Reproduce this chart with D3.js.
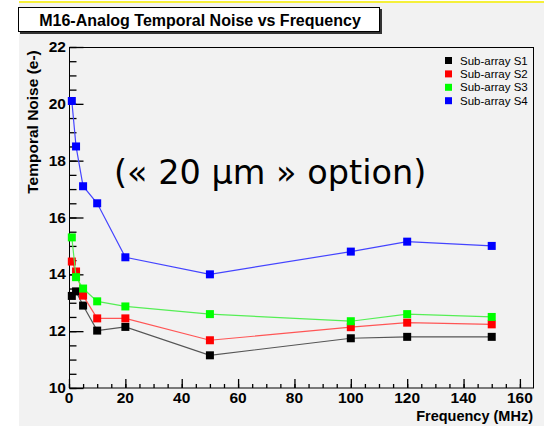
<html>
<head>
<title>M16 Analog Temporal Noise</title>
<script src="https://cdn.jsdelivr.net/npm/d3@7/dist/d3.min.js"></script>
</head>
<body style='margin: 0;padding: 0'>
<div id="chart"></div>
<script>

// frequencies (MHz) and noise (e-) per sub-array
var freq = [1, 2.5, 5, 10, 20, 50, 100, 120, 150]
var s1 = [13.24, 13.4, 12.9, 12.02, 12.15, 11.15, 11.75, 11.8, 11.8]
var s2 = [14.45, 14.1, 13.25, 12.45, 12.45, 11.68, 12.14, 12.3, 12.24]
var s3 = [15.3, 13.9, 13.5, 13.05, 12.87, 12.6, 12.35, 12.6, 12.5]
var s4 = [20.1, 18.5, 17.1, 16.5, 14.6, 14.0, 14.8, 15.15, 15.0]
var seriesNames = ['Sub-array S1', 'Sub-array S2', 'Sub-array S3', 'Sub-array S4']
var seriesColours = ['#000000', '#ff0000', '#00ff00', '#0000ff']
var lineColours = ['#555555', '#ff5555', '#55ee55', '#4444ff']
var xTicks = [0, 20, 40, 60, 80, 100, 120, 140, 160]
var yTicks = [10, 12, 14, 16, 18, 20, 22]

var all_series = [s1, s2, s3, s4]
var font = "Liberation Sans, Arial, Helvetica, sans-serif"

var svg = d3.select('#chart').append('svg')
  .attr('width', 544).attr('height', 426)

// background
svg.append('rect').attr('x', 0).attr('y', 0).attr('width', 544).attr('height', 426).style('fill', '#ffffff')
svg.append('rect').attr('x', 19).attr('y', 3).attr('width', 525).attr('height', 423).style('fill', '#f2f2f2')
svg.append('line').attr('x1', 19).attr('x2', 544).attr('y1', 2).attr('y2', 2)
  .style('stroke', '#f5f03a').style('stroke-width', '2px')

// title box with shadow
svg.append('rect').attr('x', 20).attr('y', 9).attr('width', 362).attr('height', 25).style('fill', '#333333')
svg.append('rect').attr('x', 18.5).attr('y', 7.5).attr('width', 361).attr('height', 24)
  .style('fill', '#ffffff').style('stroke', '#000000').style('stroke-width', '1px')
svg.append('text').text('M16-Analog Temporal Noise vs Frequency')
  .attr('x', 200).attr('y', 26).attr('text-anchor', 'middle')
  .attr('font-family', font).attr('font-size', 16).attr('font-weight', 700)

var x = d3.scaleLinear().domain([0, 165]).range([69, 534])
var y = d3.scaleLinear().domain([10, 22]).range([388, 47])

// frame
svg.append('rect').attr('x', 69.5).attr('y', 47.5).attr('width', 464).attr('height', 340.5)
  .style('fill', 'none').style('stroke', '#000000').style('stroke-width', '1px')

// y axis (ticks inside)
var yAxis = d3.axisRight(y).tickValues(d3.range(10, 22.01, 0.5)).tickSize(7).tickFormat('')
svg.append('g').attr('transform', 'translate(69.5,0)').call(yAxis)
svg.append('g').attr('transform', 'translate(69.5,0)').call(d3.axisRight(y).tickValues(yTicks).tickSize(14).tickFormat(''))
svg.selectAll('.domain').remove()
svg.selectAll('.tick line').style('stroke', '#000').style('stroke-width', '1.3px')

svg.selectAll('.ylab').data(yTicks).enter().append('text')
  .attr('class', 'ylab').text(d => d)
  .attr('x', 66).attr('y', d => y(d) + 5).attr('text-anchor', 'end')
  .attr('font-family', font).attr('font-size', 15.5).attr('font-weight', 700)

// x axis (ticks up)
var xg1 = svg.append('g').attr('transform', 'translate(0,388)')
  .call(d3.axisTop(x).tickValues(d3.range(0, 161, 5)).tickSize(4).tickFormat(''))
var xg2 = svg.append('g').attr('transform', 'translate(0,388)')
  .call(d3.axisTop(x).tickValues(xTicks).tickSize(9).tickFormat(''))
xg1.select('.domain').remove()
xg2.select('.domain').remove()
svg.selectAll('.tick line').style('stroke', '#000').style('stroke-width', '1.3px')

svg.selectAll('.xlab').data(xTicks).enter().append('text')
  .attr('class', 'xlab').text(d => d)
  .attr('x', d => x(d)).attr('y', 403).attr('text-anchor', 'middle')
  .attr('font-family', font).attr('font-size', 15.5).attr('font-weight', 700)

// axis titles
svg.append('text').text('Frequency (MHz)')
  .attr('x', 533).attr('y', 421).attr('text-anchor', 'end')
  .attr('font-family', font).attr('font-size', 14.5).attr('font-weight', 700)
svg.append('text').text('Temporal Noise (e-)')
  .attr('transform', 'translate(38,122) rotate(-90)').attr('text-anchor', 'middle')
  .attr('font-family', font).attr('font-size', 15.5).attr('font-weight', 700)

// annotation
svg.append('text').text('(\u00ab 20 \u00b5m \u00bb option)')
  .attr('x', 114).attr('y', 184)
  .attr('font-family', 'DejaVu Sans, Verdana, sans-serif').attr('font-size', 33.5)

// series
var line = d3.line().x((d, i) => x(freq[i])).y(d => y(d))
all_series.forEach((s, k) => {
  svg.append('path').datum(s).attr('d', line)
    .style('fill', 'none').style('stroke', lineColours[k]).style('stroke-width', '1.2px')
  svg.selectAll('.pt' + k).data(s).enter().append('rect')
    .attr('class', 'pt' + k)
    .attr('x', (d, i) => x(freq[i]) - 4).attr('y', d => y(d) - 4)
    .attr('width', 8).attr('height', 8)
    .style('fill', seriesColours[k])
})

// legend
seriesNames.forEach((n, k) => {
  svg.append('rect').attr('x', 445).attr('y', 57 + k * 13.4).attr('width', 7).attr('height', 7)
    .style('fill', seriesColours[k])
  svg.append('text').text(n)
    .attr('x', 460).attr('y', 64.5 + k * 13.4)
    .attr('font-family', font).attr('font-size', 11.5)
})

</script>
</body>
</html>
